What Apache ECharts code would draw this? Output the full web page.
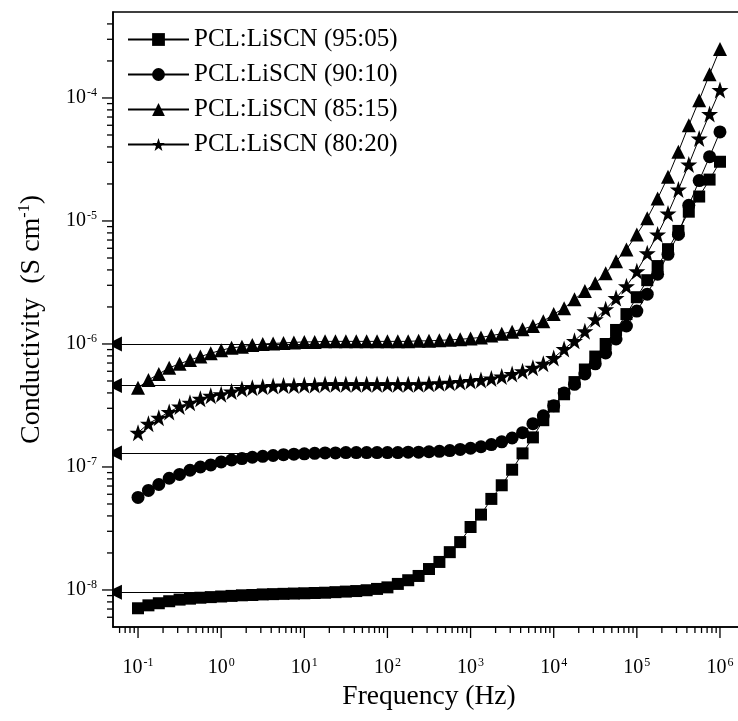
<!DOCTYPE html>
<html>
<head>
<meta charset="utf-8">
<script src="https://cdn.jsdelivr.net/npm/echarts@6/dist/echarts.min.js"></script>
<style>
html,body{margin:0;padding:0;background:#fff;}
#chart{width:738px;height:721px;}
</style>
</head>
<body>
<div id="chart"></div>
<script>
// Frequencies (Hz), 8 points per decade
const freq = [0.1,0.1334,0.1778,0.2371,0.3162,0.4217,0.5623,0.7499,
  1,1.334,1.778,2.371,3.162,4.217,5.623,7.499,
  10,13.34,17.78,23.71,31.62,42.17,56.23,74.99,
  100,133.4,177.8,237.1,316.2,421.7,562.3,749.9,
  1000,1334,1778,2371,3162,4217,5623,7499,
  10000,13340,17780,23710,31620,42170,56230,74990,
  100000,133400,177800,237100,316200,421700,562300,749900,
  1000000];

const seriesNames = ['PCL:LiSCN (95:05)','PCL:LiSCN (90:10)','PCL:LiSCN (85:15)','PCL:LiSCN (80:20)'];

const s9505 = [7.1e-9,7.5e-9,7.8e-9,8.1e-9,8.35e-9,8.5e-9,8.65e-9,8.75e-9,
  8.85e-9,8.95e-9,9.05e-9,9.1e-9,9.2e-9,9.25e-9,9.3e-9,9.35e-9,
  9.4e-9,9.45e-9,9.5e-9,9.6e-9,9.7e-9,9.8e-9,9.95e-9,1.02e-8,
  1.05e-8,1.12e-8,1.2e-8,1.3e-8,1.48e-8,1.69e-8,2.03e-8,2.45e-8,
  3.25e-8,4.1e-8,5.5e-8,7.1e-8,9.5e-8,1.29e-7,1.74e-7,2.4e-7,
  3.1e-7,3.9e-7,4.9e-7,6.2e-7,7.9e-7,1.0e-6,1.3e-6,1.75e-6,
  2.4e-6,3.3e-6,4.3e-6,5.9e-6,8.3e-6,1.19e-5,1.58e-5,2.17e-5,
  3.03e-5];

const s9010 = [5.66e-8,6.45e-8,7.2e-8,8.1e-8,8.7e-8,9.4e-8,1.0e-7,1.04e-7,
  1.1e-7,1.14e-7,1.17e-7,1.2e-7,1.22e-7,1.24e-7,1.26e-7,1.27e-7,
  1.28e-7,1.29e-7,1.3e-7,1.3e-7,1.31e-7,1.31e-7,1.31e-7,1.31e-7,
  1.31e-7,1.31e-7,1.32e-7,1.32e-7,1.33e-7,1.34e-7,1.36e-7,1.39e-7,
  1.42e-7,1.46e-7,1.52e-7,1.6e-7,1.72e-7,1.9e-7,2.25e-7,2.61e-7,
  3.15e-7,4.0e-7,4.7e-7,5.7e-7,6.9e-7,8.45e-7,1.1e-6,1.4e-6,
  1.85e-6,2.54e-6,3.69e-6,5.36e-6,7.78e-6,1.34e-5,2.13e-5,3.33e-5,
  5.3e-5];

const s8515 = [4.4e-7,5.1e-7,5.7e-7,6.4e-7,6.9e-7,7.4e-7,7.9e-7,8.4e-7,
  8.9e-7,9.3e-7,9.5e-7,9.8e-7,1.0e-6,1.01e-6,1.02e-6,1.03e-6,
  1.04e-6,1.04e-6,1.05e-6,1.05e-6,1.05e-6,1.05e-6,1.05e-6,1.05e-6,
  1.05e-6,1.05e-6,1.05e-6,1.06e-6,1.06e-6,1.07e-6,1.08e-6,1.09e-6,
  1.11e-6,1.13e-6,1.17e-6,1.21e-6,1.26e-6,1.32e-6,1.4e-6,1.53e-6,
  1.75e-6,1.95e-6,2.31e-6,2.69e-6,3.12e-6,3.76e-6,4.7e-6,5.87e-6,
  7.78e-6,1.05e-5,1.52e-5,2.29e-5,3.66e-5,6.0e-5,9.6e-5,1.56e-4,
  2.5e-4];

const s8020 = [1.9e-7,2.25e-7,2.51e-7,2.8e-7,3.1e-7,3.33e-7,3.58e-7,3.8e-7,
  3.9e-7,4.1e-7,4.3e-7,4.4e-7,4.5e-7,4.55e-7,4.6e-7,4.6e-7,
  4.65e-7,4.65e-7,4.7e-7,4.7e-7,4.7e-7,4.7e-7,4.7e-7,4.7e-7,
  4.7e-7,4.7e-7,4.7e-7,4.7e-7,4.75e-7,4.8e-7,4.85e-7,4.9e-7,
  5.0e-7,5.1e-7,5.25e-7,5.45e-7,5.7e-7,6.0e-7,6.4e-7,6.9e-7,
  7.7e-7,9.1e-7,1.06e-6,1.27e-6,1.59e-6,1.92e-6,2.36e-6,2.95e-6,
  3.9e-6,5.46e-6,7.78e-6,1.15e-5,1.8e-5,2.88e-5,4.68e-5,7.4e-5,
  1.16e-4];

// DC conductivity arrows (plateau values), drawn from arrowFrom back to the axis
const arrowLevels = [9.6e-9, 1.3e-7, 1.0e-6, 4.6e-7];
const arrowFrom = 100;
const arrowTo = 0.052;

// Axis extents and ticks
const xMin = 0.05, xMax = 2e6;
const yMin = 5e-9, yMax = 5e-4;
const xMajorTicks = [0.1,1,10,100,1000,10000,100000,1000000];
const xMinorTicks = [0.06,0.07,0.08,0.09,
  0.2,0.3,0.4,0.5,0.6,0.7,0.8,0.9,
  2,3,4,5,6,7,8,9, 20,30,40,50,60,70,80,90,
  200,300,400,500,600,700,800,900, 2000,3000,4000,5000,6000,7000,8000,9000,
  20000,30000,40000,50000,60000,70000,80000,90000,
  200000,300000,400000,500000,600000,700000,800000,900000];
const yMajorTicks = [1e-8,1e-7,1e-6,1e-5,1e-4];
const yMinorTicks = [6e-9,7e-9,8e-9,9e-9,
  2e-8,3e-8,4e-8,5e-8,6e-8,7e-8,8e-8,9e-8,
  2e-7,3e-7,4e-7,5e-7,6e-7,7e-7,8e-7,9e-7,
  2e-6,3e-6,4e-6,5e-6,6e-6,7e-6,8e-6,9e-6,
  2e-5,3e-5,4e-5,5e-5,6e-5,7e-5,8e-5,9e-5,
  2e-4,3e-4,4e-4];

const FONT = '"Liberation Serif","DejaVu Serif",serif';
const starPath = 'path://M50,0 L61.8,35.5 L98.1,35.5 L68.8,57.4 L79.4,92.6 L50,71 L20.6,92.6 L31.2,57.4 L1.9,35.5 L38.2,35.5 Z';
const arrowHead = 'path://M5,0 L10,20 L0,20 Z';

function expLabel(v) {
  const e = Math.round(Math.log10(v));
  return '{b|10}{s|' + e + '}';
}
const labelRich = {
  b: {fontFamily: FONT, fontSize: 20, color: '#000', lineHeight: 22},
  s: {fontFamily: FONT, fontSize: 12, color: '#000', verticalAlign: 'top', lineHeight: 22, padding: [0,0,8,1]}
};

function tickSeries(vals, isX, len) {
  return {
    type: 'custom', silent: true, z: 6, clip: false,
    data: vals.map(v => isX ? [v, yMin] : [xMin, v]),
    renderItem: function (params, api) {
      const p = api.coord([api.value(0), api.value(1)]);
      const shape = isX ? {x1: p[0], y1: p[1], x2: p[0], y2: p[1] + len}
                        : {x1: p[0] - len, y1: p[1], x2: p[0], y2: p[1]};
      return {type: 'line', shape: shape, style: {stroke: '#000', lineWidth: 1.3}};
    }
  };
}

const symbols = ['rect', 'circle', 'triangle', starPath];
const sizes = [12, 13, 14, 17];
const values = [s9505, s9010, s8515, s8020];

const dataSeries = seriesNames.map((name, i) => ({
  name: name,
  type: 'line',
  data: freq.map((f, k) => [f, values[i][k]]),
  symbol: symbols[i],
  symbolSize: sizes[i],
  showAllSymbol: true,
  lineStyle: {color: '#000', width: 1},
  itemStyle: {color: '#000', borderWidth: 0},
  z: 3 + i * 0.01,
  animation: false
}));

const arrowSeries = {
  type: 'lines',
  coordinateSystem: 'cartesian2d',
  silent: true,
  z: 2,
  symbol: ['none', arrowHead],
  symbolSize: [8, 15],
  lineStyle: {color: '#000', width: 1, opacity: 1},
  data: arrowLevels.map(v => ({coords: [[arrowFrom, v], [arrowTo, v]]}))
};

const chart = echarts.init(document.getElementById('chart'), null, {renderer: 'canvas'});
chart.setOption({
  animation: false,
  backgroundColor: '#fff',
  grid: {left: 113, top: 12, width: 632, height: 615, show: true, borderColor: '#000', borderWidth: 1.5,
         containLabel: false, outerBoundsMode: 'none'},
  xAxis: {
    type: 'log', logBase: 10, min: xMin, max: xMax, splitNumber: 8,
    name: 'Frequency (Hz)', nameLocation: 'middle', nameGap: 53,
    nameTextStyle: {fontFamily: FONT, fontSize: 27.5, color: '#000'},
    axisLine: {show: true, lineStyle: {color: '#000', width: 1.5}},
    axisTick: {show: false},
    splitLine: {show: false},
    axisLabel: {margin: 30, showMinLabel: false, showMaxLabel: false, formatter: expLabel, rich: labelRich}
  },
  yAxis: {
    type: 'log', logBase: 10, min: yMin, max: yMax, splitNumber: 5,
    name: '{t|Conductivity  (S cm}{s|-1}{t|)}', nameLocation: 'middle', nameGap: 66, nameRotate: 90,
    nameTextStyle: {
      rich: {
        t: {fontFamily: FONT, fontSize: 28, color: '#000', lineHeight: 30},
        s: {fontFamily: FONT, fontSize: 16, color: '#000', verticalAlign: 'top', lineHeight: 30, padding: [0,0,12,0]}
      }
    },
    axisLine: {show: true, lineStyle: {color: '#000', width: 1.5}},
    axisTick: {show: false},
    splitLine: {show: false},
    axisLabel: {margin: 16, showMinLabel: false, showMaxLabel: false, formatter: expLabel, rich: labelRich}
  },
  legend: {
    orient: 'vertical', left: 122, top: 22,
    data: seriesNames,
    itemWidth: 61, itemHeight: 16, itemGap: 10,
    textStyle: {fontFamily: FONT, fontSize: 25, color: '#000', lineHeight: 25},
    selectedMode: false
  },
  series: dataSeries.concat([
    arrowSeries,
    tickSeries(xMajorTicks, true, 11),
    tickSeries(xMinorTicks, true, 6),
    tickSeries(yMajorTicks, false, 11),
    tickSeries(yMinorTicks, false, 6)
  ])
});
</script>
</body>
</html>
